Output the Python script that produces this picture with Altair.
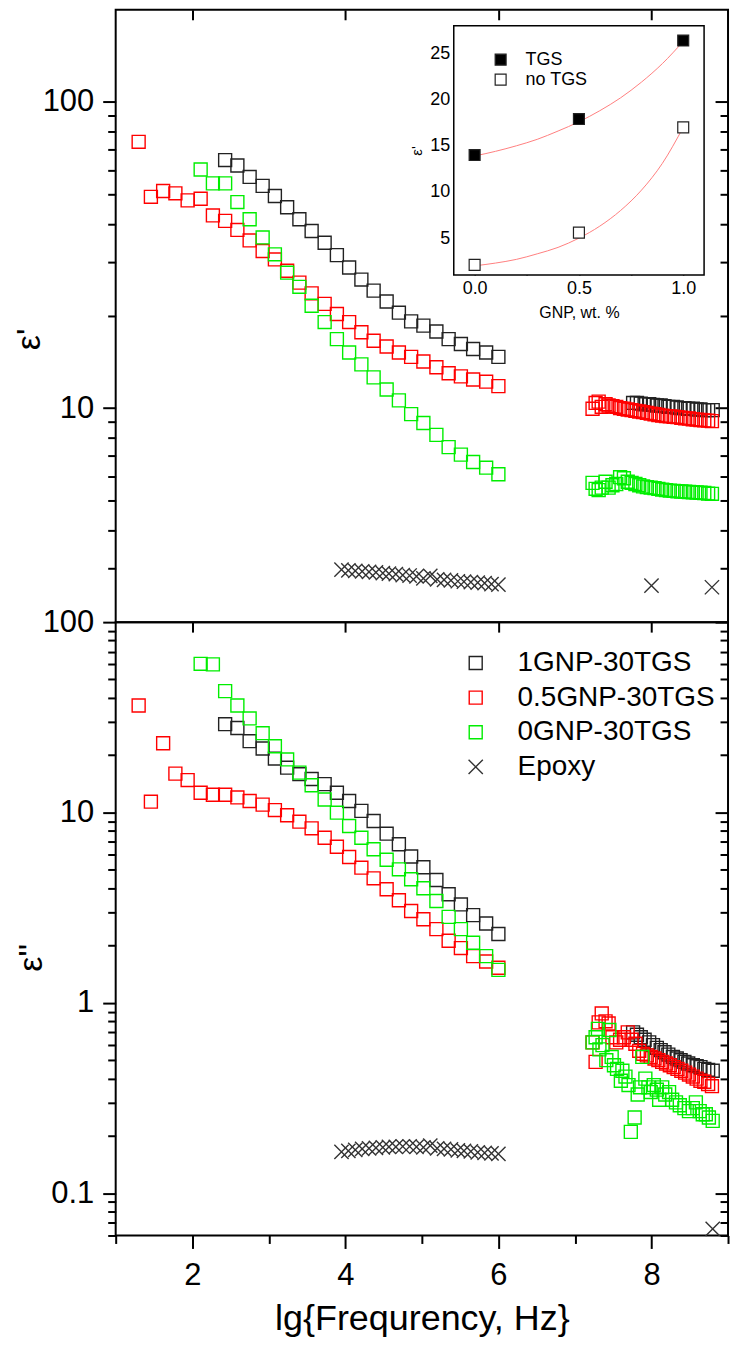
import altair as alt
import pandas as pd

FONT = "Liberation Sans"

# ---------------- data ----------------
series_names = ["1GNP-30TGS", "0.5GNP-30TGS", "0GNP-30TGS", "Epoxy"]
series_colors = ["#222222", "#ff0000", "#00ee00", "#333333"]
CROSS = "M-1.1,-1.1L1.1,1.1M-1.1,1.1L1.1,-1.1"

# low-frequency sweep positions (lg f)
lg_1gnp = [2.43, 2.59, 2.75, 2.92, 3.08, 3.24, 3.40, 3.56, 3.73, 3.89, 4.05, 4.21,
           4.37, 4.54, 4.70, 4.86, 5.02, 5.19, 5.35, 5.51, 5.67, 5.84, 6.00]
lg_05gnp = [1.30, 1.46, 1.62, 1.78, 1.94, 2.11, 2.27, 2.43, 2.59, 2.75, 2.92, 3.08,
            3.24, 3.40, 3.56, 3.73, 3.89, 4.05, 4.21, 4.37, 4.54, 4.70, 4.86, 5.02,
            5.19, 5.35, 5.51, 5.67, 5.84, 6.00]
lg_0gnp = [2.11, 2.27, 2.43, 2.59, 2.75, 2.92, 3.08, 3.24, 3.40, 3.56, 3.73, 3.89,
           4.05, 4.21, 4.37, 4.54, 4.70, 4.86, 5.02, 5.19, 5.35, 5.51, 5.67, 5.84, 6.00]
lg_epoxy = [3.95, 4.04, 4.13, 4.22, 4.31, 4.40, 4.49, 4.57, 4.66, 4.75, 4.84, 4.93,
            5.02, 5.11, 5.20, 5.29, 5.38, 5.47, 5.55, 5.64, 5.73, 5.82, 5.91, 6.00]

# high-frequency sweep positions
lg_hf_1gnp = [7.76, 7.81, 7.86, 7.91, 7.97, 8.02, 8.07, 8.12, 8.17, 8.22, 8.28,
              8.33, 8.38, 8.43, 8.48, 8.54, 8.59, 8.64, 8.69, 8.74, 8.80]
lg_hf = [7.23, 7.27, 7.31, 7.35, 7.40, 7.44, 7.49, 7.54, 7.59, 7.64, 7.69, 7.74,
         7.79, 7.84, 7.89, 7.94, 7.99, 8.04, 8.09, 8.14, 8.19, 8.24, 8.29, 8.34,
         8.39, 8.44, 8.49, 8.54, 8.59, 8.64, 8.69, 8.74, 8.79]
lg_hf_0gnp_loss = [7.23, 7.27, 7.30, 7.32, 7.36, 7.41, 7.45, 7.48, 7.51, 7.55,
                   7.60, 7.62, 7.66, 7.70, 7.73, 7.78, 7.82, 7.85, 7.88, 7.92,
                   7.96, 7.99, 8.03, 8.07, 8.10, 8.14, 8.18, 8.23, 8.27, 8.32,
                   8.37, 8.43, 8.49, 8.54, 8.58, 8.63, 8.67, 8.71, 8.75, 8.80]
lg_hf_epoxy_real = [8.00, 8.79]
lg_hf_epoxy_loss = [8.80]

# eps' (real part)
e1_1gnp = [64.6, 62.0, 56.9, 53.2, 49.3, 45.3, 41.4, 37.9, 34.7, 31.6, 28.8, 26.3,
           24.2, 22.3, 20.5, 19.2, 18.6, 17.8, 16.8, 16.2, 15.6, 15.2, 14.7]
e1_05gnp = [74.1, 49.0, 51.2, 50.3, 47.7, 48.3, 42.6, 40.9, 38.2, 35.3, 32.6, 30.6,
            28.1, 25.7, 23.7, 21.9, 20.3, 19.1, 17.7, 16.6, 15.9, 15.2, 14.7, 14.2,
            13.6, 13.0, 12.7, 12.4, 12.2, 11.8]
e1_0gnp = [60.2, 54.2, 54.2, 47.1, 41.4, 36.1, 31.8, 27.7, 24.9, 21.6, 19.1, 16.8,
           15.2, 13.9, 12.6, 11.5, 10.6, 9.56, 8.94, 8.18, 7.46, 7.05, 6.67, 6.39, 6.08]
e1_epoxy = [2.97, 2.95, 2.94, 2.93, 2.92, 2.91, 2.89, 2.88, 2.87, 2.85, 2.84, 2.82,
            2.78, 2.83, 2.76, 2.75, 2.74, 2.72, 2.71, 2.70, 2.69, 2.68, 2.66, 2.65]
e1_hf_1gnp = [10.4, 10.4, 10.35, 10.3, 10.3, 10.25, 10.2, 10.2, 10.15, 10.1, 10.1,
              10.05, 10.0, 10.0, 9.95, 9.95, 9.9, 9.9, 9.85, 9.85, 9.85]
e1_hf_05gnp = [9.95, 10.4, 10.5, 10.1, 10.3, 10.2, 10.15, 10.1, 10.0, 9.95, 9.9,
               9.85, 9.8, 9.75, 9.7, 9.65, 9.6, 9.55, 9.5, 9.45, 9.42, 9.4, 9.37,
               9.35, 9.3, 9.27, 9.25, 9.2, 9.17, 9.15, 9.12, 9.1, 9.07]
e1_hf_0gnp = [5.70, 5.45, 5.40, 5.50, 5.75, 5.50, 5.60, 5.65, 5.95, 5.90, 5.75,
              5.70, 5.65, 5.60, 5.55, 5.52, 5.50, 5.48, 5.45, 5.42, 5.40, 5.38,
              5.37, 5.35, 5.34, 5.33, 5.32, 5.31, 5.30, 5.29, 5.28, 5.26, 5.25]
e1_hf_epoxy = [2.63, 2.60]

# eps'' (loss part)
e2_1gnp = [29.1, 27.8, 23.7, 21.7, 19.2, 17.2, 15.9, 15.0, 14.1, 12.7, 11.5, 10.2,
           9.02, 7.74, 6.81, 5.87, 5.16, 4.42, 3.72, 3.29, 2.89, 2.61, 2.30]
e2_05gnp = [36.5, 11.4, 23.1, 16.0, 14.8, 12.7, 12.4, 12.4, 12.0, 11.5, 11.0, 10.3,
            9.67, 8.95, 8.26, 7.37, 6.61, 5.84, 5.13, 4.51, 3.95, 3.46, 3.04, 2.75,
            2.44, 2.12, 1.94, 1.76, 1.65, 1.53]
e2_0gnp = [60.4, 60.0, 43.4, 36.5, 31.2, 26.1, 22.3, 19.0, 16.2, 13.9, 11.7, 9.98,
           8.49, 7.37, 6.41, 5.65, 5.03, 4.46, 4.00, 3.43, 2.83, 2.44, 2.07, 1.76, 1.49]
e2_epoxy = [0.165, 0.167, 0.169, 0.171, 0.172, 0.173, 0.174, 0.175, 0.175, 0.176,
            0.176, 0.175, 0.174, 0.178, 0.172, 0.171, 0.170, 0.168, 0.167, 0.166,
            0.164, 0.163, 0.162, 0.161]
e2_hf_1gnp = [0.70, 0.68, 0.66, 0.64, 0.62, 0.60, 0.58, 0.565, 0.55, 0.535, 0.52,
              0.51, 0.50, 0.49, 0.48, 0.47, 0.465, 0.46, 0.45, 0.445, 0.44]
e2_hf_05gnp = [0.62, 0.49, 0.79, 0.88, 0.80, 0.78, 0.66, 0.62, 0.64, 0.66, 0.70,
               0.64, 0.61, 0.56, 0.54, 0.53, 0.52, 0.51, 0.50, 0.49, 0.48, 0.47,
               0.46, 0.45, 0.44, 0.43, 0.42, 0.41, 0.40, 0.39, 0.385, 0.375, 0.365]
e2_hf_0gnp = [0.62, 0.66, 0.73, 0.57, 0.60, 0.50, 0.72, 0.52, 0.47, 0.45, 0.39,
              0.44, 0.41, 0.37, 0.21, 0.25, 0.33, 0.36, 0.52, 0.40, 0.36, 0.34,
              0.37, 0.35, 0.31, 0.36, 0.33, 0.34, 0.31, 0.30, 0.29, 0.28, 0.27,
              0.28, 0.30, 0.27, 0.26, 0.26, 0.25, 0.24]
e2_hf_epoxy = [0.065]

# inset: eps' at selected frequency vs GNP content
inset_gnp = [0.0, 0.5, 1.0]
inset_tgs = [14.0, 17.9, 26.4]
inset_notgs = [2.1, 5.6, 17.0]
inset_groups = ["TGS", "no TGS"]
fit_gnp = [0.0, 0.1, 0.2, 0.3, 0.4, 0.5, 0.6, 0.7, 0.8, 0.9, 1.0]
fit_tgs = [13.9, 14.4, 15.0, 15.7, 16.6, 17.6, 18.8, 20.2, 21.9, 23.9, 26.3]
fit_notgs = [2.0, 2.3, 2.7, 3.3, 4.0, 5.0, 6.3, 8.0, 10.2, 13.1, 17.0]


def rows(lg, vals, name):
    return [{"lg": a, "val": b, "series": name} for a, b in zip(lg, vals)]


top_rows = (rows(lg_1gnp, e1_1gnp, series_names[0]) + rows(lg_hf_1gnp, e1_hf_1gnp, series_names[0])
            + rows(lg_05gnp, e1_05gnp, series_names[1]) + rows(lg_hf, e1_hf_05gnp, series_names[1])
            + rows(lg_0gnp, e1_0gnp, series_names[2]) + rows(lg_hf, e1_hf_0gnp, series_names[2])
            + rows(lg_epoxy, e1_epoxy, series_names[3]) + rows(lg_hf_epoxy_real, e1_hf_epoxy, series_names[3]))
bot_rows = (rows(lg_1gnp, e2_1gnp, series_names[0]) + rows(lg_hf_1gnp, e2_hf_1gnp, series_names[0])
            + rows(lg_05gnp, e2_05gnp, series_names[1]) + rows(lg_hf, e2_hf_05gnp, series_names[1])
            + rows(lg_0gnp, e2_0gnp, series_names[2]) + rows(lg_hf_0gnp_loss, e2_hf_0gnp, series_names[2])
            + rows(lg_epoxy, e2_epoxy, series_names[3]) + rows(lg_hf_epoxy_loss, e2_hf_epoxy, series_names[3]))
top_df = pd.DataFrame(top_rows)
bot_df = pd.DataFrame(bot_rows)

inset_pts = pd.DataFrame(
    [{"gnp": g, "eps": v, "grp": "TGS"} for g, v in zip(inset_gnp, inset_tgs)]
    + [{"gnp": g, "eps": v, "grp": "no TGS"} for g, v in zip(inset_gnp, inset_notgs)])
inset_fit = pd.DataFrame(
    [{"gnp": g, "eps": v, "grp": "TGS"} for g, v in zip(fit_gnp, fit_tgs)]
    + [{"gnp": g, "eps": v, "grp": "no TGS"} for g, v in zip(fit_gnp, fit_notgs)])
inset_box = pd.DataFrame([{"gnp": -0.1, "gnp2": 1.1, "eps": 1, "eps2": 28}])

# ---------------- layout constants ----------------
W = 614
H_TOP = 614
H_BOT = 615
MAJ = 13
MIN = 8

x_scale = alt.Scale(domain=[1, 9], nice=False, zero=False)
y_top_scale = alt.Scale(type="log", domain=[2, 200], nice=False)
y_bot_scale = alt.Scale(type="log", domain=[0.06, 100], nice=False)
color_scale = alt.Scale(domain=series_names, range=series_colors)
shape_scale = alt.Scale(domain=series_names, range=["square", "square", "square", CROSS])

top_major = [10, 100]
top_minor = [3, 4, 5, 6, 7, 8, 9, 20, 30, 40, 50, 60, 70, 80, 90]
bot_major = [0.1, 1, 10, 100]
bot_minor = [0.06, 0.07, 0.08, 0.09, 0.2, 0.3, 0.4, 0.5, 0.6, 0.7, 0.8, 0.9,
             2, 3, 4, 5, 6, 7, 8, 9, 20, 30, 40, 50, 60, 70, 80, 90]


def tick_axis(orient, values, size, **kw):
    return alt.Axis(orient=orient, values=values, tickSize=size, offset=-size,
                    labels=False, domain=False, grid=False, title=None,
                    tickColor="black", tickWidth=2, **kw)


def left_major_axis(values, expr, title, title_y, title_x):
    return alt.Axis(orient="left", values=values, labelExpr=expr, tickSize=MAJ,
                    tickWidth=2, tickColor="black", domain=False, grid=False,
                    labelFont=FONT, labelFontSize=31, labelColor="black",
                    labelPadding=9, labelOverlap=False, labelFlush=False,
                    title=title, titleFont=FONT, titleFontSize=34,
                    titleFontWeight="normal", titleColor="black",
                    titleAngle=270, titleBaseline="middle", titleAlign="center",
                    titleX=title_x, titleY=title_y)


point_mark = dict(filled=False, size=169, strokeWidth=1.4, opacity=1)


def panel(df, y_scale, major, minor, major_expr, title, title_y, title_x, legend, bottom):
    if bottom:
        x_axis = alt.Axis(orient="bottom", values=[2, 4, 6, 8], tickSize=MAJ, tickWidth=2,
                          tickColor="black", domain=False, grid=False, labelFont=FONT,
                          labelFontSize=31, labelColor="black", labelPadding=12,
                          labelFlush=False, labelOverlap=False,
                          title="lg{Frequrency, Hz}", titleFont=FONT, titleFontSize=36,
                          titleFontWeight="normal", titleColor="black", titlePadding=11)
    else:
        x_axis = tick_axis("top", [2, 4, 6, 8], 10)
    main = alt.Chart(df).mark_point(**point_mark).encode(
        x=alt.X("lg:Q", scale=x_scale, axis=x_axis),
        y=alt.Y("val:Q", scale=y_scale,
                axis=left_major_axis(major, major_expr, title, title_y, title_x)),
        color=alt.Color("series:N", scale=color_scale, legend=legend),
        shape=alt.Shape("series:N", scale=shape_scale, legend=legend),
    )
    # minor ticks on the left (outward)
    aux_left = alt.Chart(df).mark_point(opacity=0).encode(
        x=alt.X("lg:Q", scale=x_scale, axis=None),
        y=alt.Y("val:Q", scale=y_scale,
                axis=alt.Axis(orient="left", values=minor, tickSize=MIN, labels=False,
                              domain=False, grid=False, title=None, tickColor="black",
                              tickWidth=2)),
    )
    # odd-decade minor ticks on the bottom axis
    x_minor_axis = (alt.Axis(orient="bottom", values=[1, 3, 5, 7, 9], tickSize=MIN, labels=False,
                             domain=False, grid=False, title=None, tickColor="black",
                             tickWidth=2) if bottom else None)
    aux_left = aux_left.encode(x=alt.X("lg:Q", scale=x_scale, axis=x_minor_axis))
    # inward ticks on the right (major) and top
    x_aux_axis = tick_axis("top", [2, 4, 6, 8], 10) if bottom else None
    aux_right_major = alt.Chart(df).mark_point(opacity=0).encode(
        x=alt.X("lg:Q", scale=x_scale, axis=x_aux_axis),
        y=alt.Y("val:Q", scale=y_scale, axis=tick_axis("right", major, MAJ)),
    )
    aux_right_minor = alt.Chart(df).mark_point(opacity=0).encode(
        x=alt.X("lg:Q", scale=x_scale, axis=None),
        y=alt.Y("val:Q", scale=y_scale, axis=tick_axis("right", minor, MIN)),
    )
    return [main, aux_left, aux_right_major, aux_right_minor]


main_legend = alt.Legend(orient="none", legendX=347, legendY=27, title=None,
                         symbolSize=169, symbolStrokeWidth=1.4, labelFont=FONT,
                         labelFontSize=28, labelColor="black", labelOffset=28,
                         labelLimit=0, rowPadding=6.7, padding=0, offset=0)

top_layers = panel(top_df, y_top_scale, top_major, top_minor,
                   "datum.value == 10 ? '10' : datum.value == 100 ? '100' : ''",
                   "ε'", 330, -86, None, False)
bot_layers = panel(bot_df, y_bot_scale, bot_major, bot_minor,
                   "datum.value == 100 ? '100' : datum.value == 10 ? '10' : datum.value == 1 ? '1' : datum.value == 0.1 ? '0.1' : ''",
                   "ε''", 336, -84, main_legend, True)

# ---------------- inset ----------------
inset_x_scale = alt.Scale(domain=[-0.1, 1.1], range=[339, 590], nice=False, zero=False)
inset_y_scale = alt.Scale(domain=[1, 28], range=[266, 16], nice=False, zero=False)
inset_x_axis = alt.Axis(orient="bottom", offset=-(H_TOP - 266) - 6,
                        values=[0, 0.25, 0.5, 0.75, 1.0], tickSize=6, tickWidth=1.5,
                        tickColor="black", domain=False, grid=False,
                        labelExpr="datum.value == 0 ? '0.0' : datum.value == 0.5 ? '0.5' : datum.value == 1 ? '1.0' : ''",
                        labelFont=FONT, labelFontSize=18, labelColor="black", labelPadding=4,
                        labelFlush=False, labelOverlap=False,
                        title="GNP, wt. %", titleFont=FONT, titleFontSize=16,
                        titleFontWeight="normal", titleColor="black", titlePadding=8)
inset_y_axis = alt.Axis(orient="left", offset=-339 - 6, values=[5, 10, 15, 20, 25],
                        tickSize=6, tickWidth=1.5, tickColor="black", domain=False,
                        grid=False, labelFont=FONT, labelFontSize=18, labelColor="black",
                        labelPadding=4, labelOverlap=False, labelFlush=False,
                        title="ε'", titleFont=FONT, titleFontSize=15,
                        titleFontWeight="normal", titleColor="black", titlePadding=5)

inset_frame = alt.Chart(inset_box).mark_rect(fill="white", stroke="black", strokeWidth=1.5).encode(
    x=alt.X("gnp:Q", scale=inset_x_scale, axis=inset_x_axis),
    x2="gnp2:Q",
    y=alt.Y("eps:Q", scale=inset_y_scale, axis=inset_y_axis),
    y2="eps2:Q",
)
inset_lines = alt.Chart(inset_fit).mark_line(color="#ff7f7f", strokeWidth=1, interpolate="monotone").encode(
    x=alt.X("gnp:Q", scale=inset_x_scale, axis=inset_x_axis),
    y=alt.Y("eps:Q", scale=inset_y_scale, axis=inset_y_axis),
    detail="grp:N",
)
inset_points = alt.Chart(inset_pts).mark_point(shape="square", size=120, filled=True,
                                               stroke="#222222", strokeWidth=1.2, opacity=1).encode(
    x=alt.X("gnp:Q", scale=inset_x_scale, axis=inset_x_axis),
    y=alt.Y("eps:Q", scale=inset_y_scale, axis=inset_y_axis),
    fill=alt.Fill("grp:N", scale=alt.Scale(domain=inset_groups, range=["black", "white"]),
                  legend=alt.Legend(orient="none", legendX=377, legendY=41, title=None,
                                    symbolType="square", symbolSize=120,
                                    symbolStrokeColor="#222222", symbolStrokeWidth=1.2,
                                    labelFont=FONT, labelFontSize=18, labelColor="black",
                                    labelOffset=16, labelLimit=0, rowPadding=2,
                                    padding=0, offset=0)),
)
inset = alt.layer(inset_frame, inset_lines, inset_points)

top = alt.layer(*top_layers, inset).resolve_scale(x="independent", y="independent").properties(
    width=W, height=H_TOP)
bottom = alt.layer(*bot_layers).resolve_scale(x="independent", y="independent").properties(
    width=W, height=H_BOT)

chart = alt.vconcat(top, bottom, spacing=0, bounds="flush").resolve_scale(
    color="independent", shape="independent", fill="independent"
).properties(
    padding={"left": 12, "top": 6, "right": 6, "bottom": 5},
    background="white",
).configure_view(stroke="black", strokeWidth=2).configure_axis(labelFont=FONT, titleFont=FONT)

chart.save("out.html", embed_options={"renderer": "svg", "actions": False})
